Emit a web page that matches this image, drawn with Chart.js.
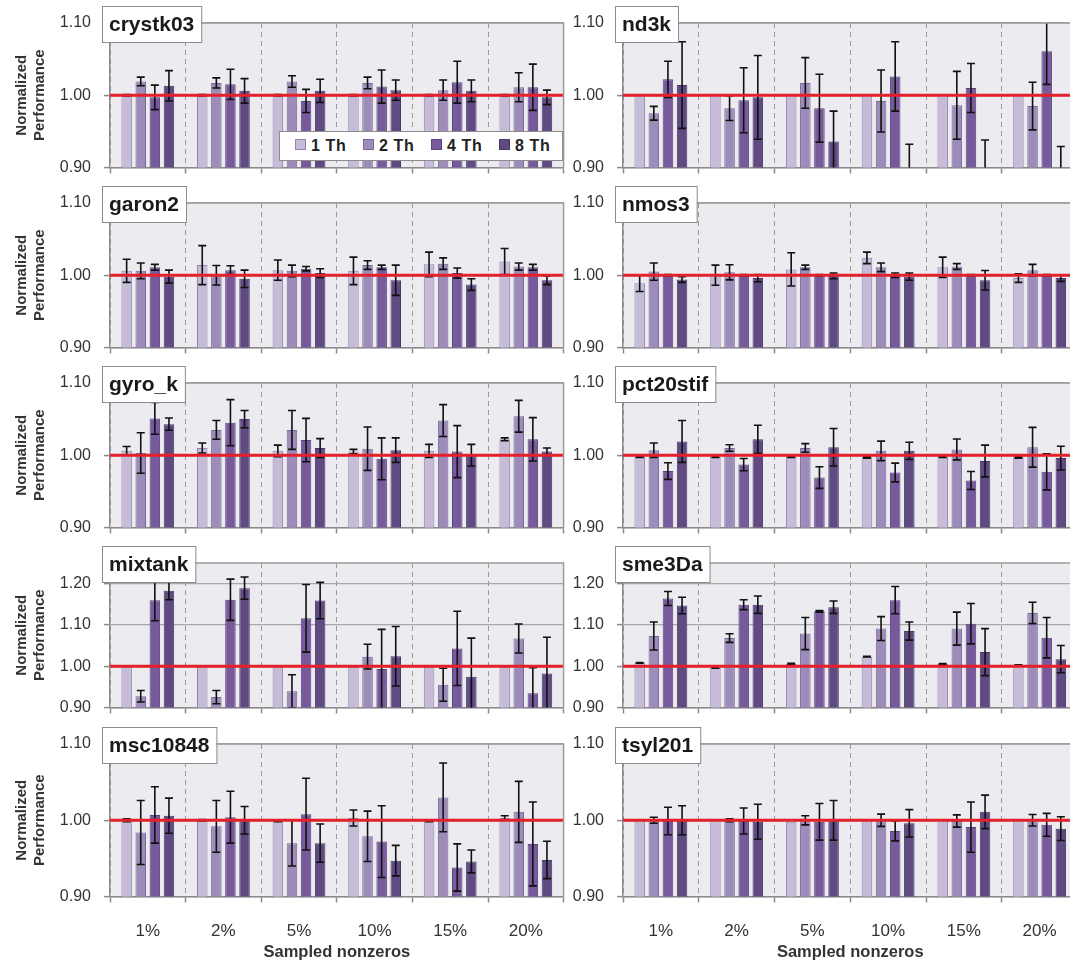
<!DOCTYPE html>
<html>
<head>
<meta charset="utf-8">
<title>Normalized performance by sampled nonzeros</title>
<script src="https://cdn.jsdelivr.net/npm/chart.js@4.4.1/dist/chart.umd.min.js"></script>
<style>
    html, body { margin: 0; padding: 0; background: #fff; overflow: hidden; }
    body { width: 1070px; height: 963px; position: relative; }
    canvas { position: absolute; }
    #legend {
        position: absolute; left: 279px; top: 131px; width: 284px; height: 30px;
        background: #fff; border: 1px solid #8c8c8c; box-sizing: border-box;
        font: bold 16px "Liberation Sans", Arial, sans-serif; color: #222; letter-spacing: 0.6px;
    }
    #legend .item { position: absolute; top: 5px; white-space: nowrap; }
    #legend .sw { display: inline-block; width: 9px; height: 9px; margin-right: 5px; vertical-align: 1px; border: 1px solid; }
</style>
</head>
<body>
<div id="legend"></div>
<script>
// x categories, series and y ticks
const groups = ['1%', '2%', '5%', '10%', '15%', '20%'];
const threads = ['1 Th', '2 Th', '4 Th', '8 Th'];
const yTicks = [0.90, 1.00, 1.10];
const yTicksTall = [0.90, 1.00, 1.10, 1.20];
const yMin = 0.90;
const yMax = 1.10;
const yMaxTall = 1.25;
const refLine = 1.00;

// one row per thread count (1, 2, 4, 8 Th), one column per group
const crystk03Perf = [
    [1.000, 1.000, 1.000, 1.000, 1.000, 1.000],
    [1.019, 1.017, 1.019, 1.017, 1.007, 1.011],
    [0.997, 1.015, 0.992, 1.012, 1.018, 1.011],
    [1.013, 1.006, 1.006, 1.007, 1.006, 0.997]
];
const crystk03Err = [
    [0.001, 0.001, 0.001, 0.001, 0.001, 0.001],
    [0.006, 0.007, 0.008, 0.008, 0.014, 0.020],
    [0.017, 0.021, 0.016, 0.023, 0.029, 0.032],
    [0.021, 0.017, 0.016, 0.014, 0.015, 0.010]
];

const nd3kPerf = [
    [1.000, 1.000, 1.000, 1.000, 1.000, 1.000],
    [0.975, 0.982, 1.017, 0.992, 0.986, 0.985],
    [1.022, 0.993, 0.982, 1.026, 1.010, 1.061],
    [1.014, 0.997, 0.936, 0.890, 0.890, 0.890]
];
const nd3kErr = [
    [0, 0, 0, 0, 0, 0],
    [0.0095, 0.017, 0.035, 0.043, 0.047, 0.033],
    [0.025, 0.045, 0.047, 0.048, 0.034, 0.046],
    [0.060, 0.058, 0.042, 0.042, 0.048, 0.039]
];

const garon2Perf = [
    [1.006, 1.014, 1.007, 1.006, 1.015, 1.019],
    [1.006, 1.000, 1.006, 1.014, 1.016, 1.012],
    [1.011, 1.007, 1.009, 1.011, 1.003, 1.011],
    [0.998, 0.995, 1.003, 0.993, 0.987, 0.993]
];
const garon2Err = [
    [0.016, 0.027, 0.014, 0.019, 0.017, 0.018],
    [0.011, 0.0135, 0.008, 0.006, 0.008, 0.005],
    [0.004, 0.006, 0.003, 0.003, 0.007, 0.004],
    [0.009, 0.012, 0.006, 0.021, 0.008, 0.006]
];

const nmos3Perf = [
    [0.989, 1.000, 1.008, 1.024, 1.011, 0.996],
    [1.005, 1.004, 1.011, 1.011, 1.012, 1.007],
    [1.000, 1.000, 1.000, 1.000, 1.000, 1.000],
    [0.994, 0.996, 0.999, 0.998, 0.993, 0.996]
];
const nmos3Err = [
    [0.0115, 0.014, 0.023, 0.008, 0.014, 0.006],
    [0.012, 0.0105, 0.003, 0.006, 0.004, 0.008],
    [0.001, 0.001, 0.001, 0.003, 0.001, 0.001],
    [0.004, 0.005, 0.004, 0.005, 0.0135, 0.0045]
];

const gyroKPerf = [
    [1.006, 1.010, 1.006, 1.005, 1.006, 1.022],
    [1.003, 1.035, 1.035, 1.009, 1.048, 1.054],
    [1.051, 1.045, 1.021, 0.995, 1.005, 1.022],
    [1.043, 1.050, 1.010, 1.007, 1.000, 1.005]
];
const gyroKErr = [
    [0.006, 0.007, 0.008, 0.003, 0.009, 0.002],
    [0.028, 0.013, 0.027, 0.030, 0.022, 0.022],
    [0.022, 0.032, 0.030, 0.029, 0.036, 0.030],
    [0.0085, 0.012, 0.013, 0.017, 0.015, 0.005]
];

const pct20stifPerf = [
    [0.998, 0.998, 0.998, 0.997, 0.998, 0.997],
    [1.007, 1.010, 1.010, 1.006, 1.008, 1.011],
    [0.978, 0.987, 0.969, 0.976, 0.965, 0.977],
    [1.019, 1.022, 1.011, 1.006, 0.992, 0.996]
];
const pct20stifErr = [
    [0.001, 0.001, 0.001, 0.001, 0.001, 0.001],
    [0.010, 0.0045, 0.006, 0.0135, 0.0145, 0.0275],
    [0.0115, 0.0085, 0.015, 0.013, 0.0125, 0.025],
    [0.029, 0.0195, 0.026, 0.012, 0.022, 0.0165]
];

const mixtankPerf = [
    [1.000, 1.000, 1.000, 1.000, 1.000, 1.000],
    [0.927, 0.925, 0.939, 1.023, 0.955, 1.067],
    [1.160, 1.161, 1.116, 0.993, 1.043, 0.934],
    [1.183, 1.189, 1.159, 1.024, 0.974, 0.982]
];
const mixtankErr = [
    [0.001, 0.001, 0.001, 0.001, 0.001, 0.001],
    [0.014, 0.016, 0.040, 0.030, 0.040, 0.035],
    [0.050, 0.050, 0.082, 0.096, 0.090, 0.062],
    [0.022, 0.027, 0.044, 0.072, 0.094, 0.088]
];

const sme3DaPerf = [
    [1.008, 0.996, 1.006, 1.023, 1.005, 1.002],
    [1.073, 1.068, 1.079, 1.091, 1.091, 1.129],
    [1.164, 1.149, 1.133, 1.160, 1.103, 1.069],
    [1.147, 1.149, 1.143, 1.085, 1.034, 1.017]
];
const sme3DaErr = [
    [0.001, 0.001, 0.001, 0.001, 0.001, 0.001],
    [0.034, 0.0105, 0.039, 0.029, 0.040, 0.026],
    [0.017, 0.012, 0.002, 0.033, 0.049, 0.049],
    [0.020, 0.021, 0.015, 0.022, 0.057, 0.033]
];

const msc10848Perf = [
    [1.000, 1.000, 0.999, 1.003, 0.999, 1.003],
    [0.984, 0.992, 0.970, 0.979, 1.030, 1.011],
    [1.007, 1.004, 1.008, 0.972, 0.938, 0.969],
    [1.006, 1.000, 0.970, 0.947, 0.946, 0.948]
];
const msc10848Err = [
    [0.002, 0.001, 0.001, 0.0105, 0.001, 0.003],
    [0.042, 0.034, 0.030, 0.033, 0.045, 0.040],
    [0.037, 0.034, 0.047, 0.047, 0.031, 0.055],
    [0.023, 0.018, 0.025, 0.020, 0.015, 0.0245]
];

const tsyl201Perf = [
    [1.000, 1.000, 0.998, 1.000, 1.000, 1.000],
    [1.000, 1.000, 1.000, 1.000, 0.999, 1.000],
    [0.999, 0.999, 0.998, 0.986, 0.991, 0.994],
    [1.000, 0.998, 1.000, 0.996, 1.011, 0.989]
];
const tsyl201Err = [
    [0, 0, 0, 0, 0, 0],
    [0.004, 0.002, 0.006, 0.008, 0.008, 0.0075],
    [0.018, 0.017, 0.024, 0.013, 0.033, 0.015],
    [0.019, 0.023, 0.026, 0.018, 0.022, 0.0155]
];

const panels = [
    { name: 'crystk03', perf: crystk03Perf, err: crystk03Err, tall: false },
    { name: 'nd3k', perf: nd3kPerf, err: nd3kErr, tall: false },
    { name: 'garon2', perf: garon2Perf, err: garon2Err, tall: false },
    { name: 'nmos3', perf: nmos3Perf, err: nmos3Err, tall: false },
    { name: 'gyro_k', perf: gyroKPerf, err: gyroKErr, tall: false },
    { name: 'pct20stif', perf: pct20stifPerf, err: pct20stifErr, tall: false },
    { name: 'mixtank', perf: mixtankPerf, err: mixtankErr, tall: true },
    { name: 'sme3Da', perf: sme3DaPerf, err: sme3DaErr, tall: true },
    { name: 'msc10848', perf: msc10848Perf, err: msc10848Err, tall: false },
    { name: 'tsyl201', perf: tsyl201Perf, err: tsyl201Err, tall: false }
];

const fills = ['#c6bcd7', '#9d8cb9', '#775a9b', '#5f4a81'];
const edges = ['#9484ad', '#7a6899', '#5d437f', '#4a3869'];
const FONT = '"Liberation Sans", Arial, sans-serif';

Chart.defaults.font.family = FONT;
Chart.defaults.color = '#333';

// Background, error bars, red reference line, frame and the name box
const panelPlugin = {
    id: 'panel',
    beforeDraw(chart) {
        const a = chart.chartArea;
        const ctx = chart.ctx;
        ctx.save();
        ctx.fillStyle = '#ebebf0';
        ctx.fillRect(a.left, a.top, a.right - a.left, a.bottom - a.top);
        ctx.restore();
    },
    afterDatasetsDraw(chart, args, opts) {
        const a = chart.chartArea;
        const ctx = chart.ctx;
        const y = chart.scales.y;
        ctx.save();
        ctx.beginPath();
        ctx.rect(a.left, a.top, a.right - a.left, a.bottom - a.top);
        ctx.clip();

        chart.data.datasets.forEach((ds, i) => {
            const meta = chart.getDatasetMeta(i);
            meta.data.forEach((bar, j) => {
                const e = ds.errors[j];
                if (!e) return;
                const v = ds.data[j];
                const y1 = y.getPixelForValue(v + e);
                const y2 = y.getPixelForValue(v - e);
                ctx.strokeStyle = '#111';
                ctx.lineWidth = 1.6;
                ctx.beginPath();
                ctx.moveTo(bar.x, y1); ctx.lineTo(bar.x, y2);
                ctx.moveTo(bar.x - 4, y1); ctx.lineTo(bar.x + 4, y1);
                ctx.moveTo(bar.x - 4, y2); ctx.lineTo(bar.x + 4, y2);
                ctx.stroke();
            });
        });

        const ry = y.getPixelForValue(opts.ref);
        ctx.strokeStyle = '#e4202a';
        ctx.lineWidth = 3;
        ctx.beginPath();
        ctx.moveTo(a.left, ry);
        ctx.lineTo(a.right, ry);
        ctx.stroke();
        ctx.restore();
    },
    afterDraw(chart, args, opts) {
        const a = chart.chartArea;
        const ctx = chart.ctx;
        ctx.save();
        // frame top and right
        ctx.strokeStyle = '#9c9c9c';
        ctx.lineWidth = 1.5;
        ctx.beginPath();
        ctx.moveTo(a.left, a.top);
        ctx.lineTo(a.right, a.top);
        ctx.lineTo(a.right, a.bottom);
        ctx.stroke();

        // name box
        ctx.font = 'bold 21px ' + FONT;
        const w = ctx.measureText(opts.name).width + 14;
        const bx = a.left - 8, by = a.top - 17, bh = 36;
        ctx.fillStyle = '#fff';
        ctx.fillRect(bx, by, w, bh);
        ctx.strokeStyle = '#8c8c8c';
        ctx.lineWidth = 1;
        ctx.strokeRect(bx + 0.5, by + 0.5, w, bh);
        ctx.fillStyle = '#1a1a1a';
        ctx.textBaseline = 'middle';
        ctx.fillText(opts.name, bx + 7, by + bh / 2 + 1);
        ctx.restore();
    }
};

function renderPanel(p, index) {
    const col = index % 2;
    const row = Math.floor(index / 2);
    const bottomRow = row === 4;

    const canvas = document.createElement('canvas');
    const left = col ? 570 : 0;
    const width = col ? 510 : 566;
    const top = row * 180;
    const height = bottomRow ? 243 : 190;
    canvas.width = width;
    canvas.height = height;
    canvas.style.left = left + 'px';
    canvas.style.top = top + 'px';
    canvas.style.width = width + 'px';
    canvas.style.height = height + 'px';
    document.body.insertBefore(canvas, document.getElementById('legend'));

    const padTop = bottomRow ? 24 : 23;
    const xHeight = bottomRow ? 243 - 176.5 : 190 - 176;
    const ticks = p.tall ? yTicksTall : yTicks;

    new Chart(canvas.getContext('2d'), {
        type: 'bar',
        data: {
            labels: groups,
            datasets: threads.map((t, i) => ({
                label: t,
                data: p.perf[i],
                errors: p.err[i],
                backgroundColor: fills[i],
                borderColor: edges[i],
                borderWidth: 1,
                categoryPercentage: 0.746,
                barPercentage: 0.745
            }))
        },
        options: {
            responsive: false,
            animation: false,
            layout: { padding: { top: padTop, left: 0, right: col ? 2.5 : 2.4, bottom: 0 } },
            plugins: {
                legend: { display: false },
                tooltip: { enabled: false },
                panel: { name: p.name, ref: refLine }
            },
            scales: {
                x: {
                    offset: true,
                    grid: { offset: true, color: '#9a9a9a', lineWidth: 1, tickLength: 6, tickColor: '#8a8a8a', tickWidth: 1.5 },
                    border: { color: '#8a8a8a', width: 1.5, dash: [5, 4] },
                    ticks: { display: bottomRow, color: '#333', font: { size: 17 }, padding: 19, maxRotation: 0 },
                    title: {
                        display: bottomRow,
                        text: 'Sampled nonzeros',
                        color: '#333',
                        font: { size: 16.5, weight: 'bold' },
                        padding: { top: 0, bottom: 1 }
                    },
                    afterFit: s => { s.height = xHeight; }
                },
                y: {
                    min: yMin,
                    max: p.tall ? yMaxTall : yMax,
                    afterBuildTicks: s => { s.ticks = ticks.map(v => ({ value: v })); },
                    grid: { color: '#a8a8a8', lineWidth: 1.2, tickLength: 6, tickColor: '#8a8a8a', tickWidth: 1.5 },
                    border: { color: '#8a8a8a', width: 1.5 },
                    ticks: { color: '#333', font: { size: 16 }, padding: 13, callback: v => Number(v).toFixed(2) },
                    title: {
                        display: col === 0,
                        text: ['Normalized', 'Performance'],
                        color: '#333',
                        font: { size: 15, weight: 'bold', lineHeight: 1.2 },
                        padding: { top: 13, bottom: 0 }
                    },
                    afterFit: s => { s.width = col ? 53 : 110; }
                }
            }
        },
        plugins: [panelPlugin]
    });
}

function renderLegend() {
    const box = document.getElementById('legend');
    threads.forEach((t, i) => {
        const item = document.createElement('span');
        item.className = 'item';
        item.style.left = (15 + i * 68) + 'px';
        const sw = document.createElement('span');
        sw.className = 'sw';
        sw.style.background = fills[i];
        sw.style.borderColor = edges[i];
        item.appendChild(sw);
        item.appendChild(document.createTextNode(t));
        box.appendChild(item);
    });
}

document.addEventListener('DOMContentLoaded', () => {
    panels.forEach(renderPanel);
    renderLegend();
});
</script>
</body>
</html>
